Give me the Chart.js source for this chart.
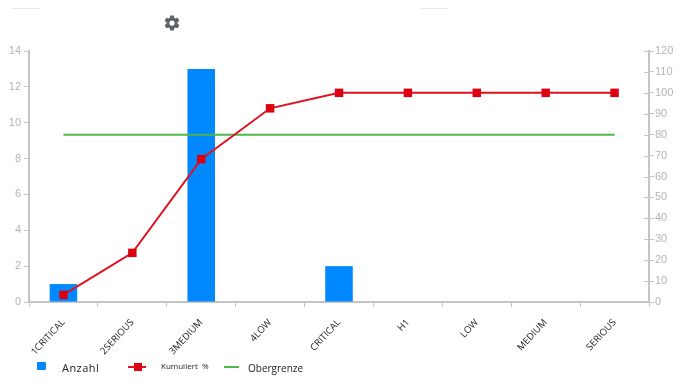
<!DOCTYPE html>
<html>
<head>
<meta charset="utf-8">
<style>
    html, body { margin: 0; padding: 0; background: #fff; }
    #wrap { position: relative; width: 682px; height: 391px; overflow: hidden; }
    #wrap canvas { position: absolute; left: 0; top: 0; }
    .rule { position: absolute; top: 8px; width: 27px; height: 1px; background: #e8e8e8; }
    .label { position: absolute; color: #222; font-family: "Open Sans", sans-serif; white-space: nowrap; }
    .mark { position: absolute; }
    #gear { position: absolute; left: 163px; top: 14px; }
</style>
</head>
<body>
<div id="wrap">
    <canvas id="pareto" width="682" height="391"></canvas>
    <div class="rule" style="left:12px"></div>
    <div class="rule" style="left:421px"></div>
    <svg id="gear" width="18" height="18" viewBox="0 0 24 24">
        <path fill="#5f6368" d="M19.4 13c.04-.33.1-.66.1-1s-.06-.67-.1-1l2.1-1.65c.2-.15.25-.42.13-.64l-2-3.46c-.12-.22-.39-.3-.61-.22l-2.49 1c-.52-.4-1.08-.73-1.69-.98l-.38-2.65A.49.49 0 0 0 14 2h-4c-.25 0-.46.18-.49.42l-.38 2.65c-.61.25-1.17.59-1.69.98l-2.49-1a.5.5 0 0 0-.61.22l-2 3.46c-.13.22-.07.49.12.64L4.57 11c-.04.33-.07.66-.07 1s.03.67.07 1l-2.11 1.65c-.19.15-.25.42-.12.64l2 3.46c.12.22.39.3.61.22l2.49-1c.52.4 1.08.73 1.69.98l.38 2.65c.03.24.24.42.49.42h4c.25 0 .46-.18.49-.42l.38-2.65c.61-.25 1.17-.59 1.69-.98l2.49 1c.22.08.49 0 .61-.22l2-3.46c.12-.22.07-.49-.12-.64L19.4 13zM12 15.5a3.5 3.5 0 1 1 0-7 3.5 3.5 0 0 1 0 7z"/>
    </svg>
    <!-- legend -->
    <div class="mark" style="left:37px;top:362px;width:9px;height:8px;background:#0088ff;border-radius:1px"></div>
    <div class="label" style="left:62px;top:360px;font-size:11px;letter-spacing:.45px">Anzahl</div>
    <div class="mark" style="left:128px;top:366px;width:18px;height:2px;background:#e2101f"></div>
    <div class="mark" style="left:134px;top:363px;width:8px;height:8px;background:#dd0010"></div>
    <div class="label" style="left:161px;top:360px;font-size:8px">Kumuliert&nbsp; %</div>
    <div class="mark" style="left:224px;top:366px;width:15px;height:2px;background:#4cb848"></div>
    <div class="label" style="left:248px;top:361px;font-size:10px">Obergrenze</div>
</div>

<script src="https://cdn.jsdelivr.net/npm/chart.js@4/dist/chart.umd.min.js"></script>
<script>
// Values
const categories = ["1CRITICAL", "2SERIOUS", "3MEDIUM", "4LOW", "CRITICAL", "H1", "LOW", "MEDIUM", "SERIOUS"];
const anzahl = [1, 0, 13, 0, 2, 0, 0, 0, 0];
const kumuliert = [3.4, 23.5, 68.3, 92.6, 100, 100, 100, 100, 100];
const obergrenze = [80, 80, 80, 80, 80, 80, 80, 80, 80];

const axisColor = "#c4c4c4";
const tickFont = { family: "'Liberation Sans', Arial, sans-serif", size: 11 };

// The right axis has its tick marks crossing the axis line
const crossTicks = {
    id: "crossTicks",
    afterDraw(chart) {
        const scale = chart.scales.y1;
        const ctx = chart.ctx;
        ctx.save();
        ctx.strokeStyle = axisColor;
        ctx.lineWidth = 1;
        scale.ticks.forEach(function (tick) {
            const y = Math.round(scale.getPixelForValue(tick.value)) + 0.5;
            ctx.beginPath();
            ctx.moveTo(scale.left - 5, y);
            ctx.lineTo(scale.left, y);
            ctx.stroke();
        });
        ctx.restore();
    }
};

const ctx = document.getElementById("pareto").getContext("2d");
new Chart(ctx, {
    type: "bar",
    data: {
        labels: categories,
        datasets: [
            {
                type: "line",
                label: "Kumuliert %",
                data: kumuliert,
                yAxisID: "y1",
                borderColor: "#e2101f",
                backgroundColor: "#dd0010",
                borderWidth: 2,
                tension: 0,
                pointStyle: "rect",
                pointRadius: 6,
                pointBorderWidth: 0,
                order: 1,
            },
            {
                type: "line",
                label: "Obergrenze",
                data: obergrenze,
                yAxisID: "y1",
                borderColor: "#4cb848",
                borderWidth: 2,
                pointRadius: 0,
                order: 2,
            },
            {
                label: "Anzahl",
                data: anzahl,
                yAxisID: "y",
                backgroundColor: "#0088ff",
                barPercentage: 0.4,
                categoryPercentage: 1,
                order: 3,
            },
        ],
    },
    options: {
        responsive: false,
        animation: false,
        layout: { padding: { top: 51, left: 0, right: 0, bottom: 0 } },
        plugins: { legend: { display: false }, title: { display: false }, tooltip: { enabled: false } },
        scales: {
            x: {
                afterFit(scale) { scale.height = 89; },
                grid: { drawOnChartArea: false, color: axisColor, tickLength: 5 },
                border: { color: axisColor, width: 2 },
                ticks: {
                    autoSkip: false,
                    minRotation: 47,
                    maxRotation: 47,
                    color: "#222",
                    padding: 10,
                    font: { family: "'Open Sans', sans-serif", size: 9.5 },
                },
            },
            y: {
                position: "left",
                min: 0,
                max: 14,
                afterFit(scale) { scale.width = 29; },
                grid: { drawOnChartArea: false, color: axisColor, tickLength: 5 },
                border: { color: axisColor, width: 2 },
                ticks: { stepSize: 2, color: "#b4b4b4", padding: 3, font: tickFont },
            },
            y1: {
                position: "right",
                min: 0,
                max: 120,
                afterFit(scale) { scale.width = 33; },
                grid: { drawOnChartArea: false, color: axisColor, tickLength: 5 },
                border: { color: axisColor, width: 2 },
                ticks: { stepSize: 10, color: "#b4b4b4", padding: 1, font: tickFont },
            },
        },
    },
    plugins: [crossTicks],
});
</script>
</body>
</html>
